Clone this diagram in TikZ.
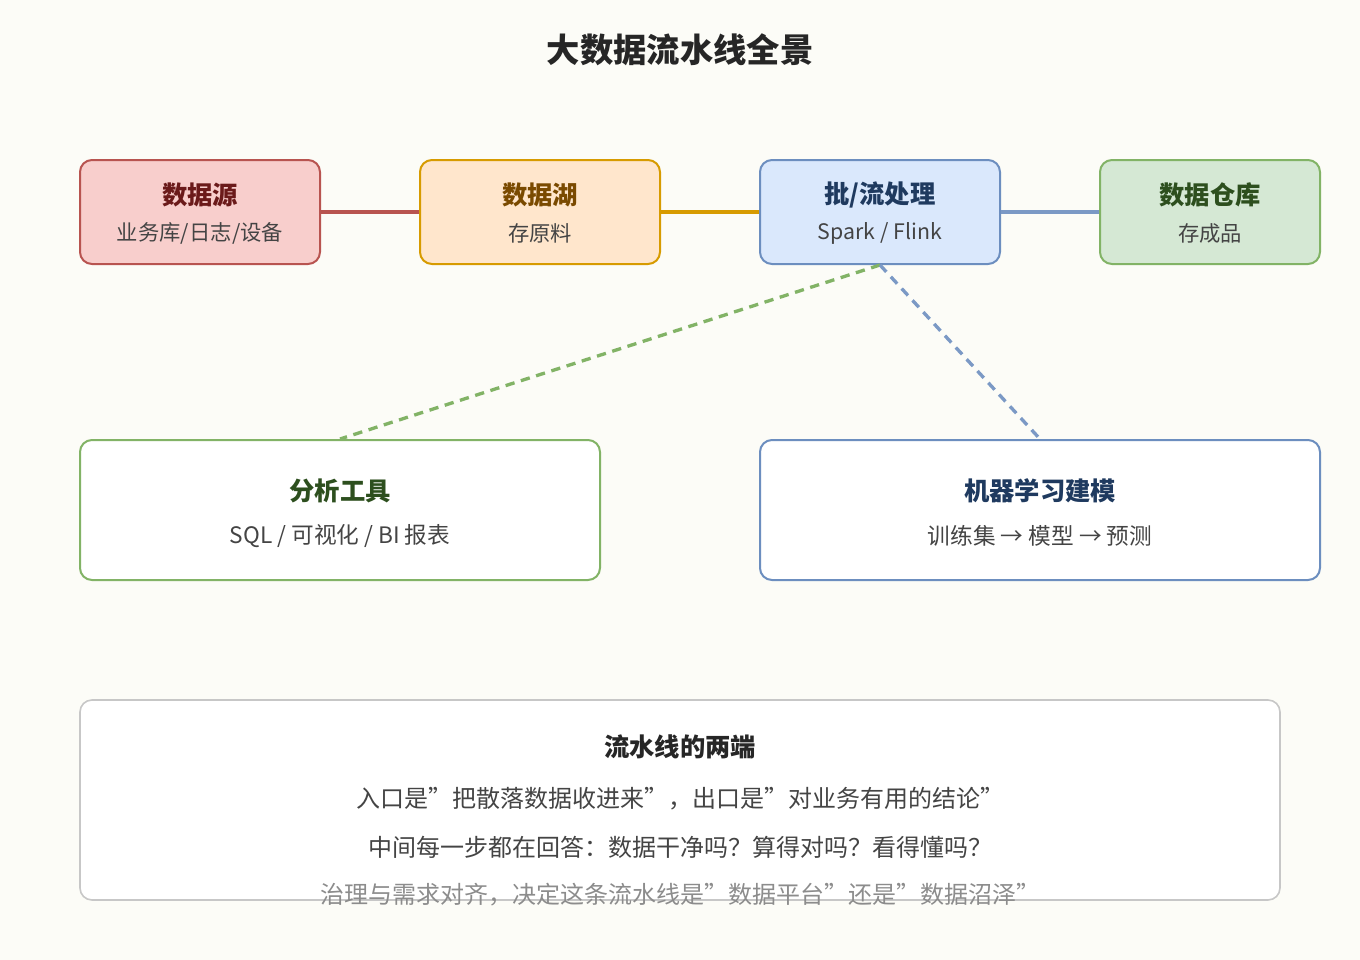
\documentclass[tikz,border=0pt]{standalone}
\usepackage{fontspec}
\setmainfont{Noto Sans CJK SC}
\newfontfamily\cjkb{Noto Sans CJK SC Bold}
\definecolor{bg}{HTML}{FCFCF7}
\definecolor{rf}{HTML}{F8CECC}\definecolor{rd}{HTML}{B85450}\definecolor{rt}{HTML}{6B1A1A}
\definecolor{of}{HTML}{FFE6CC}\definecolor{od}{HTML}{D79B00}\definecolor{ot}{HTML}{7A4A00}
\definecolor{bf}{HTML}{DAE8FC}\definecolor{bd}{HTML}{6C8EBF}\definecolor{bt}{HTML}{1F3A5F}
\definecolor{gf}{HTML}{D5E8D4}\definecolor{gd}{HTML}{82B366}\definecolor{gt}{HTML}{2D4F1E}
\definecolor{txt}{HTML}{444444}
\begin{document}
\begin{tikzpicture}[x=0.75pt,y=-0.75pt,
 box/.style={draw,line width=1.5pt,rounded corners=9pt,inner sep=0pt},
 ttl/.style={font=\bfseries\fontsize{19}{22}\selectfont},
 sub/.style={font=\fontsize{16}{19}\selectfont,text=txt},
 lnk/.style={line width=3pt},
 dsh/.style={line width=2.5pt,dash pattern=on 7pt off 5pt}]
\fill[bg] (0,0) rectangle (1360,960);
\useasboundingbox (0,0) rectangle (1360,960);
\node[font=\bfseries\fontsize{25}{30}\selectfont,text=black!85] (title) at (680,50) {大数据流水线全景};
% top row
\draw[box,draw=rd,fill=rf] (80,160) rectangle (320,264); \coordinate (a) at (200,212);
\draw[box,draw=od,fill=of] (420,160) rectangle (660,264); \coordinate (b) at (540,212);
\draw[box,draw=bd,fill=bf] (760,160) rectangle (1000,264); \coordinate (c) at (880,212);
\draw[box,draw=gd,fill=gf] (1100,160) rectangle (1320,264); \coordinate (d) at (1210,212);
\node[ttl,text=rt] (at) at (200,195) {数据源};
\node[sub] (as) at (200,233) {业务库/日志/设备};
\node[ttl,text=ot] (bt1) at (540,195) {数据湖};
\node[sub] (bs) at (540,233) {存原料};
\node[ttl,text=bt] (ct) at (880,195) {批/流处理};
\node[sub] (cs) at (880,233) {Spark / Flink};
\node[ttl,text=gt] (dt) at (1210,195) {数据仓库};
\node[sub] (ds) at (1210,233) {存成品};
\coordinate (a1) at (321,212); \coordinate (b0) at (419,212);
\coordinate (b1) at (661,212); \coordinate (c0) at (759,212);
\coordinate (c1) at (1001,212); \coordinate (d0) at (1099,212);
\draw[lnk,draw=rd] (a1) -- (b0);
\draw[lnk,draw=od] (b1) -- (c0);
\draw[lnk,draw=bd!90] (c1) -- (d0);
% middle
\draw[box,draw=gd,fill=white] (80,440) rectangle (600,580);
\draw[box,draw=bd,fill=white] (760,440) rectangle (1320,580);
\node[ttl,text=gt] (et) at (340,491) {分析工具};
\node[sub,font=\fontsize{17}{20}\selectfont] (es) at (340,536) {SQL / 可视化 / BI 报表};
\node[ttl,text=bt] (ft) at (1040,491) {机器学习建模};
\node[sub,font=\fontsize{17}{20}\selectfont] (fs) at (1040,536) {训练集 → 模型 → 预测};
\coordinate (cb) at (880,265); \coordinate (et0) at (340,439); \coordinate (ft0) at (1040,439);
\draw[dsh,draw=gd] (cb) -- (et0);
\draw[dsh,draw=bd!90] (cb) -- (ft0);
% bottom
\draw[line width=1.2pt,draw=black!22,rounded corners=9pt,fill=white] (80,700) rectangle (1280,900);
\node[ttl,text=black!85] (gt1) at (680,747) {流水线的两端};
\node[sub,font=\fontsize{18}{21}\selectfont] (g1) at (680,799) {入口是"把散落数据收进来"，出口是"对业务有用的结论"};
\node[sub,font=\fontsize{18}{21}\selectfont] (g2) at (680,847) {中间每一步都在回答：数据干净吗？算得对吗？看得懂吗？};
\node[sub,font=\fontsize{18}{21}\selectfont,text=black!45] (g3) at (680,895) {治理与需求对齐，决定这条流水线是"数据平台"还是"数据沼泽"};
\end{tikzpicture}
\end{document}
